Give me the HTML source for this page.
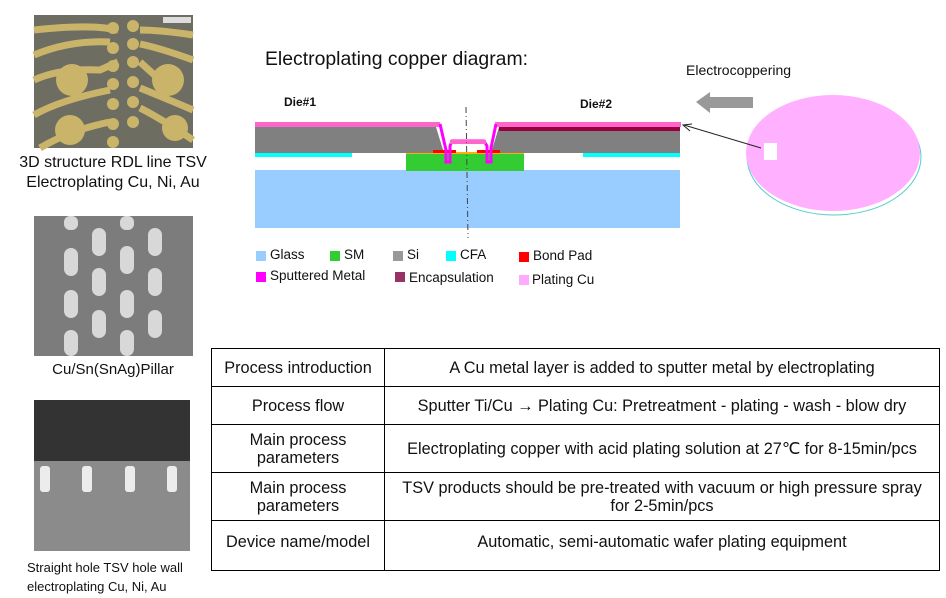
<!DOCTYPE html>
<html><head><style>
body{margin:0;width:946px;height:598px;background:#fff;position:relative;font-family:"Liberation Sans",sans-serif;overflow:hidden}
.t{position:absolute;white-space:nowrap;color:#111}
table{position:absolute;left:211px;top:348px;width:729px;height:222px;border-collapse:collapse;font-size:16.3px;color:#111}
td{border:1.5px solid #000;text-align:center;padding:0 2px;line-height:18px;white-space:nowrap}
</style></head><body>
<svg width="946" height="598" style="position:absolute;left:0;top:0">
<rect x="34" y="15" width="159" height="133" fill="#6e6d62"/>
<g fill="none" stroke="#c9b46a" stroke-width="7">
<path d="M34 30 Q80 25 105 28 L118 30"/><path d="M34 55 Q70 40 110 42"/><path d="M34 80 Q60 68 100 70 L118 62"/><path d="M34 115 Q60 100 110 90"/><path d="M40 148 Q70 130 110 122"/>
<path d="M193 35 Q160 30 140 30"/><path d="M193 60 Q160 48 140 44"/><path d="M160 80 L140 62"/><path d="M193 110 Q160 96 140 88"/><path d="M193 140 Q160 118 140 108"/>
</g>
<g fill="#c9b46a"><circle cx="72" cy="80" r="16"/><circle cx="168" cy="80" r="16"/><circle cx="70" cy="130" r="15"/><circle cx="175" cy="128" r="13"/>
<circle cx="113" cy="28" r="6"/><circle cx="113" cy="48" r="6"/><circle cx="113" cy="66" r="6"/><circle cx="113" cy="84" r="6"/><circle cx="113" cy="104" r="6"/><circle cx="113" cy="124" r="6"/><circle cx="113" cy="142" r="6"/>
<circle cx="133" cy="26" r="6"/><circle cx="133" cy="44" r="6"/><circle cx="133" cy="62" r="6"/><circle cx="133" cy="82" r="6"/><circle cx="133" cy="102" r="6"/><circle cx="133" cy="122" r="6"/></g>
<rect x="163" y="17" width="28" height="6" fill="#ddd"/>
<rect x="34" y="216" width="159" height="140" fill="#7c7c7c"/>
<g fill="#d8d8d8">
<rect x="64" y="216" width="14" height="14" rx="6"/><rect x="120" y="216" width="14" height="14" rx="6"/>
<rect x="92" y="228" width="14" height="28" rx="7"/><rect x="148" y="228" width="14" height="28" rx="7"/>
<rect x="64" y="248" width="14" height="28" rx="7"/><rect x="120" y="246" width="14" height="28" rx="7"/>
<rect x="92" y="268" width="14" height="28" rx="7"/><rect x="148" y="268" width="14" height="28" rx="7"/>
<rect x="64" y="290" width="14" height="28" rx="7"/><rect x="120" y="290" width="14" height="28" rx="7"/>
<rect x="92" y="310" width="14" height="28" rx="7"/><rect x="148" y="310" width="14" height="28" rx="7"/>
<rect x="64" y="330" width="14" height="26" rx="7"/><rect x="120" y="330" width="14" height="26" rx="7"/>
</g>
<rect x="34" y="400" width="156" height="151" fill="#8b8b8b"/>
<rect x="34" y="400" width="156" height="61" fill="#333"/>
<g fill="#ececec"><rect x="40" y="466" width="10" height="26" rx="3"/><rect x="82" y="466" width="10" height="26" rx="3"/><rect x="125" y="466" width="10" height="26" rx="3"/><rect x="167" y="466" width="10" height="26" rx="3"/></g>
<rect x="255" y="170" width="425" height="58" fill="#99ccff"/>
<rect x="406" y="154" width="118" height="17" fill="#33cc33"/>
<rect x="406" y="152" width="118" height="2" fill="#ffb000"/>
<rect x="255" y="153" width="97" height="4" fill="#00ffff"/>
<rect x="583" y="153" width="97" height="4" fill="#00ffff"/>
<polygon points="255,127 436,127 444,153 255,153" fill="#808080"/>
<polygon points="499,127 680,127 680,153 491,153" fill="#808080"/>
<rect x="433" y="150" width="23" height="3" fill="#f00"/><rect x="477" y="150" width="23" height="3" fill="#f00"/>
<rect x="255" y="122" width="185" height="5" fill="#ff66cc"/>
<rect x="495" y="122" width="186" height="5" fill="#ff66cc"/>
<rect x="499" y="127" width="181" height="4" fill="#99003d"/>
<path d="M440 124 L446 150 L446 162 L450 162 L450 146 L452 141 L484 141 L487 146 L487 162 L491 162 L491 148 L496 124" fill="none" stroke="#ff00ff" stroke-width="3"/>
<rect x="450" y="140" width="36" height="4" fill="#ff66cc"/>
<line x1="466" y1="107" x2="468" y2="238" stroke="#444" stroke-dasharray="6,3,1,3"/>
<ellipse cx="834" cy="157" rx="87" ry="58" fill="#fff" stroke="#5cc" stroke-width="1"/>
<ellipse cx="833" cy="153" rx="87" ry="58" fill="#ffb0ff"/>
<rect x="764" y="143" width="13" height="17" fill="#fff"/>
<line x1="761" y1="148" x2="684" y2="125" stroke="#222" stroke-width="1"/>
<path d="M692 124 L683 125 L690 131" fill="none" stroke="#222"/>
<polygon points="696,102 710,92 710,97 753,97 753,108 710,108 710,113" fill="#999"/>
<rect x="256" y="251" width="10" height="10" fill="#99ccff"/><rect x="330" y="251" width="10" height="10" fill="#33cc33"/><rect x="393" y="251" width="10" height="10" fill="#999"/><rect x="446" y="251" width="10" height="10" fill="#0ff"/><rect x="519" y="252" width="10" height="10" fill="#f00"/>
<rect x="256" y="272" width="10" height="10" fill="#f0f"/><rect x="395" y="272" width="10" height="10" fill="#993366"/><rect x="519" y="275" width="10" height="10" fill="#ffaaff"/>
</svg>
<div class="t" style="left:10px;top:153px;font-size:16px;width:206px;text-align:center;line-height:20px">3D structure RDL line TSV<br>Electroplating Cu, Ni, Au</div>
<div class="t" style="left:10px;top:361px;font-size:15px;width:206px;text-align:center">Cu/Sn(SnAg)Pillar</div>
<div class="t" style="left:27px;top:558px;font-size:13px;line-height:19px">Straight hole TSV hole wall<br>electroplating Cu, Ni, Au</div>
<div class="t" style="left:265px;top:48px;font-size:19.4px">Electroplating copper diagram:</div>
<div class="t" style="left:686px;top:62px;font-size:14px">Electrocoppering</div>
<div class="t" style="left:284px;top:95px;font-size:12px;font-weight:bold">Die#1</div>
<div class="t" style="left:580px;top:97px;font-size:12px;font-weight:bold">Die#2</div>
<div class="t" style="left:270px;top:247px;font-size:13.5px">Glass</div>
<div class="t" style="left:344px;top:247px;font-size:13.5px">SM</div>
<div class="t" style="left:407px;top:247px;font-size:13.5px">Si</div>
<div class="t" style="left:460px;top:247px;font-size:13.5px">CFA</div>
<div class="t" style="left:533px;top:248px;font-size:13.5px">Bond Pad</div>
<div class="t" style="left:270px;top:268px;font-size:13.5px">Sputtered Metal</div>
<div class="t" style="left:409px;top:270px;font-size:13.5px">Encapsulation</div>
<div class="t" style="left:532px;top:272px;font-size:13.5px">Plating Cu</div>
<table>
<tr style="height:38px"><td style="width:168px">Process introduction</td><td>A Cu metal layer is added to sputter metal by electroplating</td></tr>
<tr style="height:38px"><td>Process flow</td><td>Sputter Ti/Cu → Plating Cu: Pretreatment - plating - wash - blow dry</td></tr>
<tr style="height:48px"><td>Main process<br>parameters</td><td>Electroplating copper with acid plating solution at 27℃ for 8-15min/pcs</td></tr>
<tr style="height:48px"><td>Main process<br>parameters</td><td>TSV products should be pre-treated with vacuum or high pressure spray<br>for 2-5min/pcs</td></tr>
<tr style="height:50px"><td style="vertical-align:top;padding-top:12px">Device name/model</td><td style="vertical-align:top;padding-top:12px">Automatic, semi-automatic wafer plating equipment</td></tr>
</table>
</body></html>
